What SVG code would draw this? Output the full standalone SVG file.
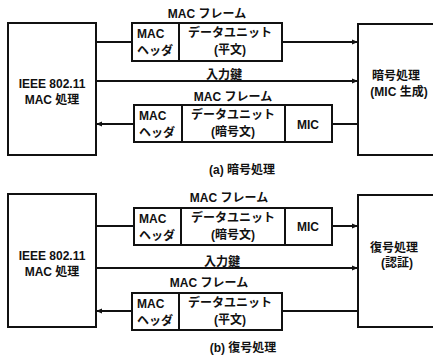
<svg xmlns="http://www.w3.org/2000/svg" width="433" height="358" viewBox="0 0 433 358">
<defs>
<marker id="ah" viewBox="0 0 6 6" refX="6" refY="3" markerWidth="6" markerHeight="6" markerUnits="userSpaceOnUse" orient="auto">
<path d="M0,0.5 L6,3 L0,5.5 Z" fill="#111"/>
</marker>
<style>
rect{fill:#fff;stroke:#111;stroke-width:2}
.c line{stroke:#111;stroke-width:2}
.a{marker-end:url(#ah)}
text{font-family:"Liberation Sans","Noto Sans CJK JP",sans-serif;font-size:12px;font-weight:bold;fill:#111}
.m{text-anchor:middle}
</style>
</defs>
<rect x="0" y="0" width="433" height="358" style="stroke:none"/>

<g id="mac-a">
<rect x="8" y="23" width="88" height="132"/>
<text class="m" x="52" y="88">IEEE 802.11</text>
<text class="m" x="52" y="104">MAC 処理</text>
</g>
<g id="enc-a">
<rect x="358" y="24" width="90" height="131"/>
<text class="m" x="396" y="80">暗号処理</text>
<text class="m" x="399" y="96">(MIC 生成)</text>
</g>
<g id="frame-a1">
<text class="m" x="207" y="18">MAC フレーム</text>
<rect x="132" y="23" width="47" height="38"/>
<rect x="179" y="23" width="103" height="38"/>
<text x="137" y="38">MAC</text>
<text x="137" y="55">ヘッダ</text>
<text class="m" x="230" y="37">データユニット</text>
<text class="m" x="230" y="54">(平文)</text>
</g>
<g id="key-a"><text class="m" x="224" y="79">入力鍵</text></g>
<g id="frame-a2">
<text class="m" x="233" y="101">MAC フレーム</text>
<rect x="134" y="105" width="48" height="37"/>
<rect x="182" y="105" width="103" height="37"/>
<rect x="285" y="105" width="47" height="37"/>
<text x="139" y="120">MAC</text>
<text x="139" y="137">ヘッダ</text>
<text class="m" x="233" y="119">データユニット</text>
<text class="m" x="233" y="136">(暗号文)</text>
<text class="m" x="308" y="129">MIC</text>
</g>
<text id="cap-a" class="m" x="242" y="174">(a) 暗号処理</text>

<g id="mac-b">
<rect x="8" y="194" width="88" height="133"/>
<text class="m" x="52" y="260">IEEE 802.11</text>
<text class="m" x="52" y="276">MAC 処理</text>
</g>
<g id="dec-b">
<rect x="358" y="195" width="90" height="132"/>
<text class="m" x="394" y="252">復号処理</text>
<text class="m" x="397" y="267">(認証)</text>
</g>
<g id="frame-b1">
<text class="m" x="229" y="202">MAC フレーム</text>
<rect x="134" y="208" width="47" height="37"/>
<rect x="181" y="208" width="104" height="37"/>
<rect x="285" y="208" width="47" height="37"/>
<text x="139" y="223">MAC</text>
<text x="139" y="240">ヘッダ</text>
<text class="m" x="233" y="222">データユニット</text>
<text class="m" x="233" y="239">(暗号文)</text>
<text class="m" x="308" y="231">MIC</text>
</g>
<g id="key-b"><text class="m" x="222" y="266">入力鍵</text></g>
<g id="frame-b2">
<text class="m" x="209" y="287">MAC フレーム</text>
<rect x="132" y="293" width="47" height="37"/>
<rect x="179" y="293" width="103" height="37"/>
<text x="137" y="308">MAC</text>
<text x="137" y="325">ヘッダ</text>
<text class="m" x="230" y="307">データユニット</text>
<text class="m" x="230" y="324">(平文)</text>
</g>
<text id="cap-b" class="m" x="243" y="352">(b) 復号処理</text>

<g id="connectors" class="c">
<line x1="96" y1="42" x2="132" y2="42"/>
<line class="a" x1="282" y1="42" x2="358" y2="42"/>
<line class="a" x1="96" y1="81" x2="358" y2="81"/>
<line x1="332" y1="124" x2="358" y2="124"/>
<line class="a" x1="134" y1="124" x2="96" y2="124"/>
<line x1="96" y1="226" x2="134" y2="226"/>
<line class="a" x1="332" y1="226" x2="358" y2="226"/>
<line class="a" x1="96" y1="268" x2="358" y2="268"/>
<line x1="358" y1="311" x2="282" y2="311"/>
<line class="a" x1="132" y1="311" x2="96" y2="311"/>
</g>
</svg>
